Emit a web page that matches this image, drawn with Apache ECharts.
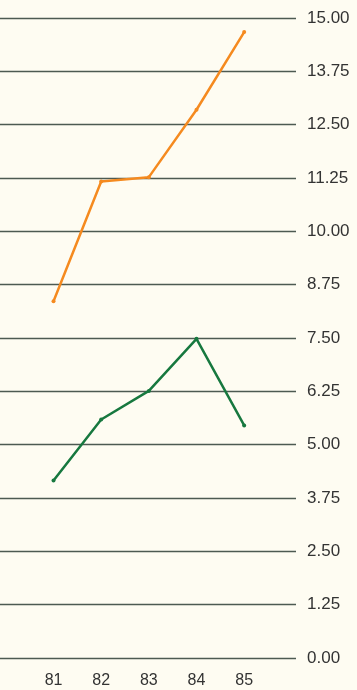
<!DOCTYPE html>
<html>
<head>
<meta charset="utf-8">
<script src="https://cdn.jsdelivr.net/npm/echarts@6/dist/echarts.min.js"></script>
<style>
  html, body { margin: 0; padding: 0; background: #fefcf2; }
</style>
</head>
<body>
<div id="chart" style="width:357px;height:690px"></div>
<script>
var years = ['81', '82', '83', '84', '85'];
var orangeData = [8.36, 11.17, 11.27, 12.85, 14.67];
var greenData = [4.16, 5.59, 6.26, 7.48, 5.45];
var yTicks = { min: 0, max: 15, interval: 1.25 };

var chart = echarts.init(document.getElementById('chart'));
var option = {
    backgroundColor: '#fefcf2',
    animation: false,
    textStyle: { fontFamily: 'Liberation Sans, Arial, sans-serif' },
    grid: [
        // full width grid just for the horizontal rules
        { left: 0, right: 61, top: 18, bottom: 32 },
        // narrower grid the lines are drawn in
        { left: 29.7, right: 89, top: 18, bottom: 32 }
    ],
    xAxis: [
        { gridIndex: 0, type: 'category', data: years, show: false },
        {
            gridIndex: 1,
            type: 'category',
            data: years,
            axisLine: { show: false },
            axisTick: { show: false },
            axisLabel: {
                margin: 15,
                fontSize: 16,
                color: '#333'
            }
        }
    ],
    yAxis: [
        {
            gridIndex: 0,
            type: 'value',
            position: 'right',
            min: yTicks.min,
            max: yTicks.max,
            interval: yTicks.interval,
            axisLine: { show: false },
            axisTick: { show: false },
            axisLabel: {
                margin: 11,
                fontSize: 17,
                color: '#333',
                formatter: function (v) { return v.toFixed(2); }
            },
            splitLine: { lineStyle: { color: '#4d5a52', width: 1.3 } }
        },
        {
            gridIndex: 1,
            type: 'value',
            min: yTicks.min,
            max: yTicks.max,
            interval: yTicks.interval,
            show: false,
            splitLine: { show: false }
        }
    ],
    series: [
        {
            type: 'line',
            xAxisIndex: 1,
            yAxisIndex: 1,
            data: orangeData,
            symbol: 'circle',
            symbolSize: 4,
            lineStyle: { color: '#f58a1f', width: 2.5 },
            itemStyle: { color: '#f58a1f' }
        },
        {
            type: 'line',
            xAxisIndex: 1,
            yAxisIndex: 1,
            data: greenData,
            symbol: 'circle',
            symbolSize: 4,
            lineStyle: { color: '#17783f', width: 2.5 },
            itemStyle: { color: '#17783f' }
        }
    ]
};
chart.setOption(option);
</script>
</body>
</html>
